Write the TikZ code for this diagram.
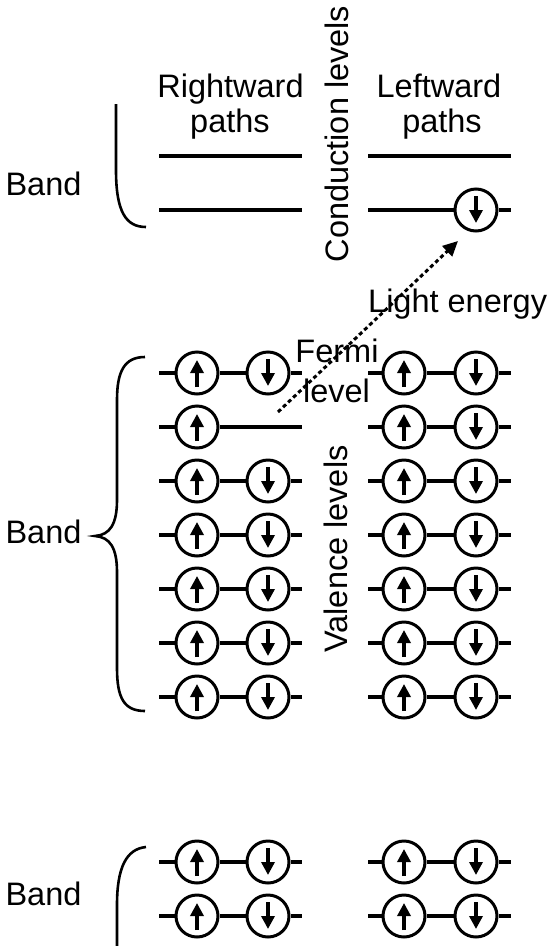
\documentclass[tikz,border=0pt]{standalone}
\usepackage{fontspec}
\setmainfont{Liberation Sans}
\usetikzlibrary{arrows.meta,calc}
\tikzset{
  levelline/.style={line width=3.2pt},
  spin/.style={circle, draw, line width=3pt, minimum size=42pt, inner sep=0pt},
  spinarrow/.style={line width=3.4pt, -{Triangle[width=13pt,length=13pt]}},
  bracket/.style={line width=2.6pt},
  txt/.style={font=\fontsize{32.5}{35}\selectfont, inner sep=0pt, anchor=base},
  vtxt/.style={txt, rotate=90},
  lightarrow/.style={line width=3pt, dash pattern=on 4pt off 3pt, -{Triangle[width=14pt,length=15pt]}}
}
\newcommand\upspin[3]{\node[spin] (#1) at (#2,#3) {};
  \draw[spinarrow] ($(#1)+(0,14)$) -- ($(#1)+(0,-13)$);}
\newcommand\downspin[3]{\node[spin] (#1) at (#2,#3) {};
  \draw[spinarrow] ($(#1)+(0,-14)$) -- ($(#1)+(0,13)$);}
\begin{document}
\begin{tikzpicture}[x=1pt,y=-1pt]
\useasboundingbox (0,0) rectangle (554,946);

% headings
\node[txt] (rw) at (230.5,97) {Rightward};
\node[txt] (rp) at (230,132) {paths};
\node[txt] (lw) at (439,97) {Leftward};
\node[txt] (lp) at (442,132) {paths};
\node[vtxt] (cond) at (348,134) {Conduction levels};
\node[vtxt] (val) at (347,549) {Valence levels};
\node[txt] (fermi) at (337,362) {Fermi};
\node[txt] (flevel) at (336.5,402) {level};
\node[txt, anchor=base west] (light) at (368,312) {Light energy};
\node[txt] (band1) at (43.5,195) {Band};
\node[txt] (band2) at (43.5,543) {Band};
\node[txt] (band3) at (43.5,905) {Band};

% conduction levels
\coordinate (cL1a) at (159,156); \coordinate (cL1b) at (302,156);
\draw[levelline] (cL1a) -- (cL1b);
\coordinate (cR1a) at (368,156); \coordinate (cR1b) at (511,156);
\draw[levelline] (cR1a) -- (cR1b);
\coordinate (cL2a) at (159,210); \coordinate (cL2b) at (302,210);
\draw[levelline] (cL2a) -- (cL2b);
\coordinate (cR2a) at (368,210); \coordinate (cR2b) at (511,210);
\downspin{cd}{476}{210}
\draw[levelline] (cR2a) -- (cd) -- (cR2b);

% valence levels
\foreach \y [count=\i] in {373,427,481,535,589,643,697}{
  \coordinate (vLa\i) at (159,\y);
  \coordinate (vLb\i) at (302,\y);
  \upspin{vLu\i}{197}{\y}
  \ifnum\i=2
    \draw[levelline] (vLa\i) -- (vLu\i) -- (vLb\i);
  \else
    \downspin{vLd\i}{268}{\y}
    \draw[levelline] (vLa\i) -- (vLu\i) -- (vLd\i) -- (vLb\i);
  \fi
  \coordinate (vRa\i) at (368,\y);
  \coordinate (vRb\i) at (511,\y);
  \upspin{vRu\i}{404}{\y}
  \downspin{vRd\i}{476}{\y}
  \draw[levelline] (vRa\i) -- (vRu\i) -- (vRd\i) -- (vRb\i);
}

% lower band
\foreach \y [count=\i] in {862,916}{
  \coordinate (bLa\i) at (159,\y);
  \coordinate (bLb\i) at (302,\y);
  \upspin{bLu\i}{197}{\y}
  \downspin{bLd\i}{268}{\y}
  \draw[levelline] (bLa\i) -- (bLu\i) -- (bLd\i) -- (bLb\i);
  \coordinate (bRa\i) at (368,\y);
  \coordinate (bRb\i) at (511,\y);
  \upspin{bRu\i}{404}{\y}
  \downspin{bRd\i}{476}{\y}
  \draw[levelline] (bRa\i) -- (bRu\i) -- (bRd\i) -- (bRb\i);
}

% brackets
\draw[bracket] (116,104) -- (116,170) .. controls (116,212) and (126,227) .. (146,227);
\draw[bracket] (145,357) .. controls (124,357) and (117,372) .. (117,400) -- (117,500)
  .. controls (117,524) and (110,535) .. (95,536)
  .. controls (110,537) and (117,548) .. (117,572) -- (117,668)
  .. controls (117,698) and (124,711) .. (145,711);
\draw[bracket] (146,847) .. controls (126,849) and (117,868) .. (117,905) -- (117,946);

% light energy arrow
\coordinate (lightstart) at (278,412);
\coordinate (lightend) at (458,241);
\draw[lightarrow] (lightstart) -- (lightend);
\end{tikzpicture}
\end{document}
